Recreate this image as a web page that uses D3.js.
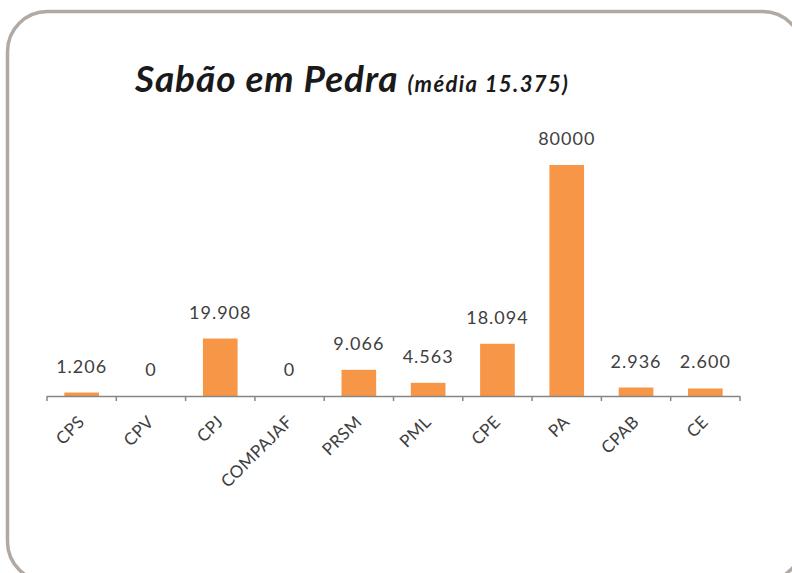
<!DOCTYPE html>
<html>
<head>
<meta charset="utf-8">
<script src="https://cdn.jsdelivr.net/npm/d3@7"></script>
<style>
  html, body { margin: 0; padding: 0; background: #ffffff; }
  svg { display: block; }
</style>
</head>
<body>
<svg id="chart" width="792" height="573"></svg>
<script>
// Sabão em Pedra — quantidade por unidade
const categories = ["CPS", "CPV", "CPJ", "COMPAJAF", "PRSM", "PML", "CPE", "PA", "CPAB", "CE"];
const values = [1206, 0, 19908, 0, 9066, 4563, 18094, 80000, 2936, 2600];
const valueLabels = ["1.206", "0", "19.908", "0", "9.066", "4.563", "18.094", "80000", "2.936", "2.600"];
const titleMain = "Sabão em Pedra";
const titleSub = "(média 15.375)";

const svg = d3.select("#chart");

// rounded frame
svg.append("rect")
  .attr("x", 7.5).attr("y", 11.5)
  .attr("width", 795).attr("height", 570)
  .attr("rx", 40).attr("ry", 40)
  .attr("fill", "#ffffff")
  .attr("stroke", "#b2aaa2")
  .attr("stroke-width", 3.5);

const plot = { left: 47, right: 740, top: 165, bottom: 396 };

const x = d3.scaleBand()
  .domain(categories)
  .range([plot.left, plot.right])
  .paddingInner(0.5)
  .paddingOuter(0.25);

const y = d3.scaleLinear()
  .domain([0, d3.max(values)])
  .range([plot.bottom, plot.top]);

const font = "Lato, 'Open Sans', sans-serif";

// title
const title = svg.append("text")
  .attr("x", 135).attr("y", 92)
  .attr("font-family", font)
  .attr("font-weight", "bold")
  .attr("font-style", "italic")
  .attr("fill", "#1a1a1a");
title.append("tspan").attr("font-size", 37).attr("letter-spacing", 0.9).text(titleMain);
title.append("tspan").attr("font-size", 22).attr("letter-spacing", 1.4).attr("dx", 9).text(titleSub);

// bars
svg.append("g").selectAll("rect")
  .data(categories)
  .join("rect")
  .attr("x", d => x(d))
  .attr("width", x.bandwidth())
  .attr("y", (d, i) => y(values[i]))
  .attr("height", (d, i) => plot.bottom - y(values[i]))
  .attr("fill", "#f79646");

// value labels
svg.append("g").selectAll("text")
  .data(categories)
  .join("text")
  .attr("x", d => x(d) + x.bandwidth() / 2)
  .attr("y", (d, i) => y(values[i]) - 20)
  .attr("text-anchor", "middle")
  .attr("font-family", font)
  .attr("font-size", 18)
  .attr("letter-spacing", 1)
  .attr("fill", "#404040")
  .text((d, i) => valueLabels[i]);

// category axis with ticks between categories
const axis = svg.append("g");
const step = x.step();
const gap = step * x.paddingInner() / 2;
const edges = categories.map(d => x(d) - gap)
  .concat([x(categories[categories.length - 1]) + x.bandwidth() + gap]);

axis.append("line")
  .attr("x1", plot.left).attr("x2", plot.right)
  .attr("y1", plot.bottom + 0.5).attr("y2", plot.bottom + 0.5)
  .attr("stroke", "#868686").attr("stroke-width", 1.5);

axis.selectAll("line.tick")
  .data(edges)
  .join("line")
  .attr("class", "tick")
  .attr("x1", d => d).attr("x2", d => d)
  .attr("y1", plot.bottom).attr("y2", plot.bottom + 5)
  .attr("stroke", "#868686").attr("stroke-width", 1.5);

axis.selectAll("text")
  .data(categories)
  .join("text")
  .attr("transform", d => `translate(${x(d) + x.bandwidth() / 2 + 4},${plot.bottom + 27}) rotate(-45)`)
  .attr("text-anchor", "end")
  .attr("font-family", font)
  .attr("font-size", 17)
  .attr("letter-spacing", 0.4)
  .attr("fill", "#404040")
  .text(d => d);
</script>
</body>
</html>
